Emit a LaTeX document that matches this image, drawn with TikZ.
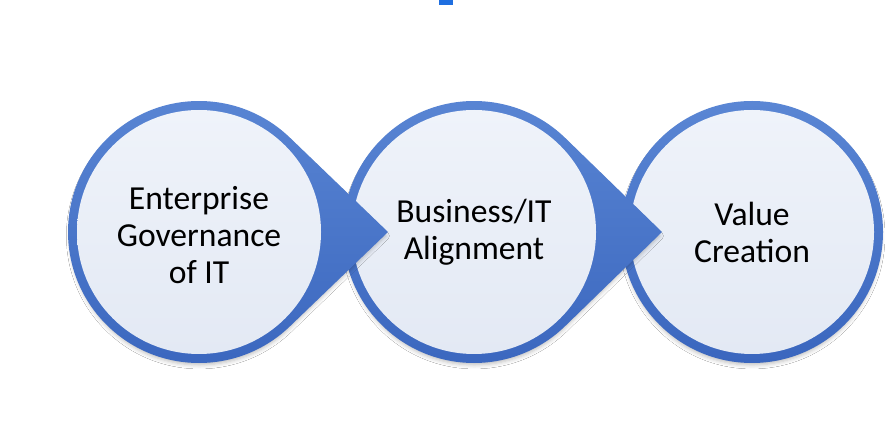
\documentclass[tikz,border=0pt]{standalone}
\usepackage{fontspec}
\setmainfont{Carlito}
\usetikzlibrary{shadows.blur}
\definecolor{ringtop}{HTML}{5A86D4}
\definecolor{ringbot}{HTML}{3A66BE}
\definecolor{innertop}{HTML}{EFF3FA}
\definecolor{innerbot}{HTML}{E3E9F4}
\definecolor{markblue}{HTML}{1F6FE0}
\begin{document}
\begin{tikzpicture}[x=1pt,y=1pt,
  drop/.style={top color=ringtop,bottom color=ringbot,
    blur shadow={shadow xshift=0pt,shadow yshift=-4pt,shadow scale=0.985,shadow blur radius=4pt,shadow opacity=25}},
  innerdisk/.style={top color=innertop,bottom color=innerbot},
  lbl/.style={align=center,font=\fontsize{33.6}{37}\selectfont,text=black,inner sep=0pt}]
\useasboundingbox (0,0) rectangle (889,442);
\fill[white] (0,0) rectangle (889,442);
\fill[markblue] (439,442) rectangle (453,437);
% circle 3
\path[drop] (752,210) circle[radius=131];
\path[innerdisk] (752,210) circle[radius=122];
\node[lbl] (c3) at (752,210) {Value\\Creation};
% circle 2
\path[drop] (662,210) -- ([shift={(474,210)}]46.1:131) arc[start angle=46.1,end angle=313.9,radius=131] -- cycle;
\path[innerdisk] (474,210) circle[radius=122];
\node[lbl] (c2) at (474,210) {Business/IT\\Alignment};
% circle 1
\path[drop] (388,210) -- ([shift={(199,210)}]46.1:131) arc[start angle=46.1,end angle=313.9,radius=131] -- cycle;
\path[innerdisk] (199,210) circle[radius=122];
\node[lbl] (c1) at (199,207) {Enterprise\\Governance\\of IT};
\end{tikzpicture}
\end{document}
